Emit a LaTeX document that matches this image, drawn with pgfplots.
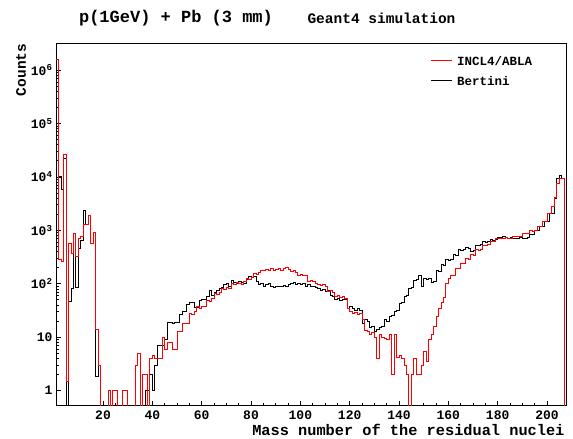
\documentclass[border=0pt]{standalone}
\usepackage{fontspec}
\setmainfont{Liberation Mono}
\usepackage{pgfplots}
\usepackage{pgfplotstable}
\pgfplotsset{compat=1.18}

\pgfplotstableread{
A R B
1 1.6e6 1.6e6
2 290 10000
3 260 5800
4 26000 22000
5 1.5 0.1
6 575 46
7 370 82
8 870 870
9 320 85
10 710 460
11 760 650
12 1300 2300
13 1300 1300
14 1870 1870
15 575 575
16 900 900
17 14 1.8
18 3 3
19 0.1 0.1
20 0.1 0.1
21 0.1 0.1
22 1 0.1
23 0.1 0.1
24 1 0.1
25 1 0.1
26 0.1 0.1
27 0.1 0.1
28 1 0.1
29 1 0.1
30 0.1 0.1
31 0.1 0.1
32 0.1 0.1
33 3 0.1
34 5 0.1
35 0.1 0.1
36 2 0.1
37 2 1
38 0.1 1
39 4 2
40 4.5 1
41 4 3
42 4 7
43 4 7
44 10 7
45 6 9
46 8 19
47 8 19
48 6 18
49 6 19
50 12.6 19
51 12.6 26
52 18 30
53 18 30
54 18 40
55 28 44
56 26 44
57 30 36
58 37 36
59 35 48
60 38 50
61 37 50
62 49 58
63 47 76
64 52 60
65 66 70
66 62 76
67 70 80
68 82 85
69 78 95
70 85 100
71 82 90
72 100 117
73 95 105
74 105 100
75 100 110
76 98 105
77 110 100
78 125 120
79 120 135
80 130 130
81 155 135
82 150 110
83 165 95
84 180 100
85 175 90
86 185 95
87 175 100
88 190 90
89 180 85
90 185 88
91 195 90
92 180 87
93 190 92
94 200 88
95 185 95
96 170 100
97 175 105
98 160 95
99 145 100
100 150 95
101 140 100
102 145 90
103 110 95
104 115 87
105 110 90
106 100 85
107 95 80
108 92 75
109 95 78
110 90 72
111 71 75
112 75 61
113 68 58
114 57 50
115 60 52
116 55 48
117 57 50
118 52 50
119 35 35
120 30 38
121 28 35
122 29 32
123 27 35
124 28 32
125 21 18
126 13.6 21
127 13 20
128 11 15
129 12 16
130 10 13
131 4 14
132 11 15
133 10 16
134 9.5 21
135 9 20
136 11 24
137 2 25
138 11 30
139 4.2 32
140 4.5 43
141 4 45
142 3 57
143 2 60
144 0.1 82
145 2 85
146 4 117
147 2 120
148 2 145
149 3 87
150 5.5 125
151 3.5 120
152 9 125
153 11 105
154 16 110
155 24 180
156 34 170
157 45 225
158 56 220
159 100 280
160 125 270
161 145 290
162 145 345
163 190 340
164 190 430
165 240 420
166 240 440
167 295 470
168 290 460
169 345 400
170 340 410
171 430 530
172 420 520
173 440 540
174 530 610
175 520 600
176 540 620
177 630 660
178 620 650
179 700 670
180 690 740
181 710 730
182 700 750
183 720 740
184 710 700
185 700 720
186 760 700
187 750 710
188 770 690
189 760 720
190 870 700
191 860 710
192 880 720
193 980 820
194 970 830
195 980 1000
196 1170 990
197 1160 1170
198 1450 1160
199 1440 1450
200 2070 1440
201 2070 2070
202 2750 2070
203 4200 4000
204 7400 9400
205 9400 10700
206 9400 9400
207 0.1 0.1
}\hist

\begin{document}
\begin{tikzpicture}
\path[use as bounding box] (-56pt,-33.3pt) rectangle (517pt,405.7pt);
\begin{axis}[
  at={(0pt,0pt)}, anchor=south west,
  width=510pt, height=362.7pt, scale only axis,
  xmin=0.93, xmax=207.7,
  ymode=log, ymin=0.52, ymax=3.2e6,
  xtick={20,40,...,200}, minor x tick num=3,
  ytick={1,10,100,1000,10000,100000,1000000},
  yticklabels={1,10,10\textsuperscript{2},10\textsuperscript{3},10\textsuperscript{4},10\textsuperscript{5},10\textsuperscript{6}},
  xtick pos=bottom, ytick pos=left,
  tick align=inside,
  major tick length=5pt, minor tick length=2.5pt,
  /pgf/number format/assume math mode=true,
  tick label style={font=\fontsize{13}{13}\selectfont\bfseries},
  x tick label style={yshift=-2pt},
  axis line style={line width=0.8pt},
  every tick/.style={black, line width=0.6pt},
]
\addplot[const plot mark left, black, line width=0.9pt] table[x=A, y=B] {\hist};
\addplot[const plot mark left, red, line width=0.9pt] table[x=A, y=R] {\hist};
\end{axis}
\draw[red, line width=1pt] (375pt,344.7pt) -- (396pt,344.7pt);
\draw[black, line width=1pt] (375pt,324.7pt) -- (396pt,324.7pt);
\node[font=\fontsize{12.5}{12.5}\selectfont\bfseries, anchor=west, inner sep=0pt] at (401pt,344.7pt) {INCL4/ABLA};
\node[font=\fontsize{12.5}{12.5}\selectfont\bfseries, anchor=west, inner sep=0pt] at (401pt,324.7pt) {Bertini};
\node[font=\fontsize{17}{17}\selectfont\bfseries] at (120pt,387.7pt) {p(1GeV) + Pb (3 mm)};
\node[font=\fontsize{14.5}{14.5}\selectfont\bfseries] at (325.5pt,387.7pt) {Geant4 simulation};
\node[font=\fontsize{14.5}{14.5}\selectfont\bfseries, rotate=90] at (-35pt,335.7pt) {Counts};
\node[font=\fontsize{15.3}{15.3}\selectfont\bfseries, anchor=east] at (512pt,-24.5pt) {Mass number of the residual nuclei};
\end{tikzpicture}
\end{document}
